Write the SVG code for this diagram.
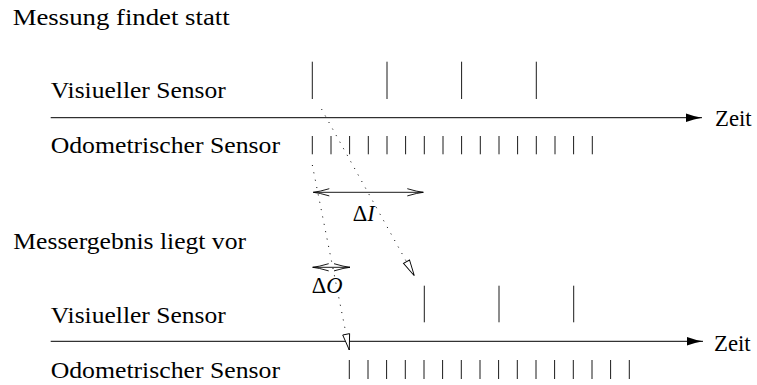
<svg xmlns="http://www.w3.org/2000/svg" width="757" height="385" viewBox="0 0 757 385">
<style>
text{font-family:'Liberation Serif','DejaVu Serif','Times New Roman',serif;font-size:22.5px;fill:#000}
.it{font-style:italic}
.tick{stroke:#000;stroke-width:0.9}
.axis{stroke:#000;stroke-width:1;fill:none}
.dot{stroke:#000;stroke-width:1;stroke-dasharray:1 6.5;fill:none}
.dim{stroke:#000;stroke-width:0.9;fill:none}
</style>
<defs>
<marker id="ax" markerUnits="userSpaceOnUse" markerWidth="20" markerHeight="12" viewBox="-17 -6 18 12" refX="0" refY="0" orient="auto">
<path d="M-16,-4.2 Q-8,-1.2 0,0 Q-8,1.2 -16,4.2 Z" fill="#000"/>
</marker>
<marker id="tri" markerUnits="userSpaceOnUse" markerWidth="20" markerHeight="12" viewBox="-17 -6 18 12" refX="0" refY="0" orient="auto">
<path d="M-16,-3.5 L0,0 L-16,3.5 Z" fill="#fff" stroke="#000" stroke-width="0.9"/>
</marker>
<marker id="to" markerUnits="userSpaceOnUse" markerWidth="20" markerHeight="12" viewBox="-17 -6 18 12" refX="0" refY="0" orient="auto-start-reverse">
<path d="M-16,-3.6 Q-6,-0.6 0,0 Q-6,0.6 -16,3.6" fill="none" stroke="#000" stroke-width="0.9"/>
</marker>
</defs>
<g id="labels" font-family="'Liberation Serif','DejaVu Serif',serif">
<text x="12.7" y="25" textLength="217" lengthAdjust="spacingAndGlyphs">Messung findet statt</text>
<text x="50.7" y="98.3" textLength="175" lengthAdjust="spacingAndGlyphs">Visiueller Sensor</text>
<text x="50.7" y="153.3" textLength="229.3" lengthAdjust="spacingAndGlyphs">Odometrischer Sensor</text>
<text x="715" y="126" textLength="36.7" lengthAdjust="spacingAndGlyphs">Zeit</text>
<text x="13.3" y="249" textLength="232.7" lengthAdjust="spacingAndGlyphs">Messergebnis liegt vor</text>
<text x="50.7" y="322.7" textLength="175" lengthAdjust="spacingAndGlyphs">Visiueller Sensor</text>
<text x="50.7" y="378.3" textLength="229.3" lengthAdjust="spacingAndGlyphs">Odometrischer Sensor</text>
<text x="714" y="350.5" textLength="36.7" lengthAdjust="spacingAndGlyphs">Zeit</text>
<text x="352.7" y="220.7">Δ<tspan class="it">I</tspan></text>
<text x="311.7" y="293.3">Δ<tspan class="it">O</tspan></text>
</g>
<g id="top-timeline">
<line class="axis" x1="50.7" y1="117.7" x2="702" y2="117.7" marker-end="url(#ax)"/>
<g id="top-visual">
<line class="tick" x1="312.3" y1="61.7" x2="312.3" y2="99"/>
<line class="tick" x1="387" y1="61.7" x2="387" y2="99"/>
<line class="tick" x1="461.6" y1="61.7" x2="461.6" y2="99"/>
<line class="tick" x1="536.3" y1="61.7" x2="536.3" y2="99"/>
</g>
<g id="top-odometric">
<path class="tick" d="M312.3,136V154.3M331,136V154.3M349.6,136V154.3M368.3,136V154.3M387,136V154.3M405.6,136V154.3M424.3,136V154.3M443,136V154.3M461.6,136V154.3M480.3,136V154.3M499,136V154.3M517.6,136V154.3M536.3,136V154.3M555,136V154.3M573.6,136V154.3M592.3,136V154.3"/>
</g>
</g>
<g id="bottom-timeline">
<line class="axis" x1="50.7" y1="341.3" x2="703" y2="341.3" marker-end="url(#ax)"/>
<g id="bottom-visual">
<line class="tick" x1="424.3" y1="285.7" x2="424.3" y2="322.3"/>
<line class="tick" x1="499" y1="285.7" x2="499" y2="322.3"/>
<line class="tick" x1="573.7" y1="285.7" x2="573.7" y2="322.3"/>
</g>
<g id="bottom-odometric">
<path class="tick" d="M349.3,360V379M368,360V379M386.6,360V379M405.3,360V379M424,360V379M442.6,360V379M461.3,360V379M480,360V379M498.6,360V379M517.3,360V379M536,360V379M554.6,360V379M573.3,360V379M592,360V379M610.6,360V379M629.3,360V379"/>
</g>
</g>
<g id="connectors">
<line class="dot" x1="321.5" y1="109" x2="414.3" y2="275.7" marker-end="url(#tri)"/>
<line class="dot" x1="312.3" y1="165" x2="349.3" y2="350" marker-end="url(#tri)"/>
<line class="dim" x1="313.3" y1="192.3" x2="423.3" y2="192.3" marker-start="url(#to)" marker-end="url(#to)"/>
<line class="dim" x1="312.7" y1="267.3" x2="350" y2="267.3" marker-start="url(#to)" marker-end="url(#to)"/>
</g>
</svg>
